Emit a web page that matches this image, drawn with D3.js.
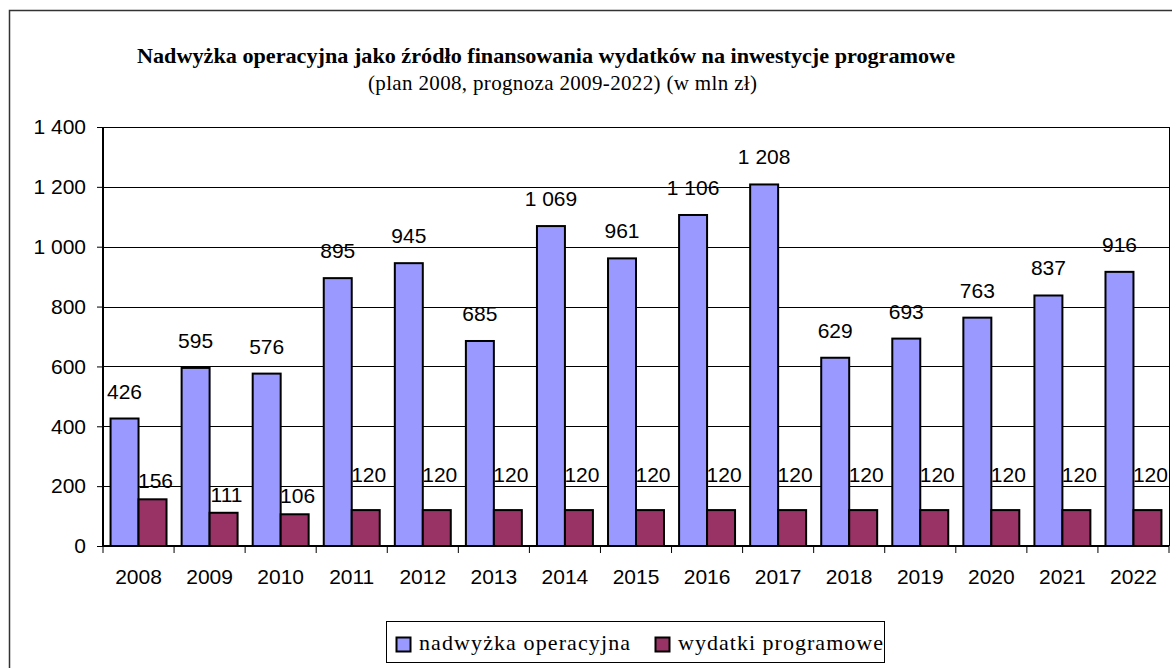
<!DOCTYPE html>
<html>
<head>
<meta charset="utf-8">
<script src="https://cdn.jsdelivr.net/npm/d3@7"></script>
<style>
  body { margin: 0; background: #fff; }
  svg { display: block; }
</style>
</head>
<body>
<svg width="1172" height="668"></svg>
<script>
const years = ["2008", "2009", "2010", "2011", "2012", "2013", "2014", "2015",
               "2016", "2017", "2018", "2019", "2020", "2021", "2022"];
const nadwyzka = [426, 595, 576, 895, 945, 685, 1069, 961, 1106, 1208, 629, 693, 763, 837, 916];
const wydatki = [156, 111, 106, 120, 120, 120, 120, 120, 120, 120, 120, 120, 120, 120, 120];
const series_names = ["nadwyżka operacyjna", "wydatki programowe"];
const series_colors = ["#9999FF", "#993366"];
const y_ticks = [0, 200, 400, 600, 800, 1000, 1200, 1400];

const svg = d3.select("svg");
const sans = "'Liberation Sans', Arial, sans-serif";
const serif = "'Liberation Serif', 'Times New Roman', serif";

const plot = { left: 103, right: 1169, top: 127, bottom: 546 };

// outer chart frame (runs past the picture on the right and bottom)
svg.append("rect")
    .attr("x", 9.5).attr("y", 10.5)
    .attr("width", 1300).attr("height", 800)
    .attr("fill", "none")
    .attr("stroke", "#333")
    .attr("stroke-width", 1.5);

const fmt = (v) => d3.format(",")(v).replace(/,/g, " ");

const x0 = d3.scaleBand().domain(years).range([plot.left, plot.right]).padding(0);
const x1 = d3.scaleBand().domain([0, 1]).range([0, x0.bandwidth()])
    .paddingInner(0).paddingOuter(0.27);
const y = d3.scaleLinear().domain([0, 1400]).range([plot.bottom, plot.top]);

// gridlines
svg.append("g")
    .selectAll("line")
    .data(y_ticks.filter((d) => d > 0))
    .join("line")
    .attr("x1", plot.left).attr("x2", plot.right)
    .attr("y1", (d) => Math.round(y(d)) + 0.5)
    .attr("y2", (d) => Math.round(y(d)) + 0.5)
    .attr("stroke", "#000")
    .attr("stroke-width", 1);

// right border of plot area
svg.append("line")
    .attr("x1", plot.right + 0.5).attr("x2", plot.right + 0.5)
    .attr("y1", plot.top).attr("y2", plot.bottom)
    .attr("stroke", "#000");

// y axis
const y_axis = svg.append("g")
    .attr("transform", `translate(${plot.left},0)`)
    .call(d3.axisLeft(y).tickValues(y_ticks).tickFormat(fmt).tickSize(6).tickPadding(11));
y_axis.select(".domain").attr("stroke-width", 2).attr("d", `M0,${plot.top}V${plot.bottom}`);
y_axis.selectAll("text").attr("font-family", sans).attr("font-size", 21).attr("fill", "#000");

// x axis: ticks at band boundaries
const x_axis = svg.append("g").attr("transform", `translate(0,${plot.bottom})`);
x_axis.append("line")
    .attr("x1", plot.left).attr("x2", plot.right)
    .attr("stroke", "#000").attr("stroke-width", 2);
x_axis.selectAll("line.tick")
    .data(years.concat(["end"]))
    .join("line")
    .attr("class", "tick")
    .attr("x1", (d, i) => plot.left + i * x0.step())
    .attr("x2", (d, i) => plot.left + i * x0.step())
    .attr("y1", 0).attr("y2", 7)
    .attr("stroke", "#000");
x_axis.selectAll("text")
    .data(years)
    .join("text")
    .attr("x", (d) => x0(d) + x0.bandwidth() / 2)
    .attr("y", 38)
    .attr("text-anchor", "middle")
    .attr("font-family", sans)
    .attr("font-size", 21)
    .text((d) => d);

// bars
const rows = years.map((yr, i) => ({ year: yr, vals: [nadwyzka[i], wydatki[i]] }));
const groups = svg.append("g")
    .selectAll("g")
    .data(rows)
    .join("g")
    .attr("transform", (d) => `translate(${x0(d.year)},0)`);

groups.selectAll("rect")
    .data((d) => d.vals.map((v, k) => ({ v, k })))
    .join("rect")
    .attr("x", (d) => x1(d.k))
    .attr("y", (d) => y(d.v))
    .attr("width", x1.bandwidth())
    .attr("height", (d) => y(0) - y(d.v))
    .attr("fill", (d) => series_colors[d.k])
    .attr("stroke", "#000")
    .attr("stroke-width", 2);

groups.selectAll("text")
    .data((d) => d.vals.map((v, k) => ({ v, k })))
    .join("text")
    .attr("x", (d) => x1(d.k) + x1.bandwidth() / 2 + (d.k === 1 ? 3 : 0))
    .attr("y", (d) => y(d.v) - (d.k === 0 ? 20 : d.v === 120 ? 28 : 11))
    .attr("text-anchor", "middle")
    .attr("font-family", sans)
    .attr("font-size", 21)
    .text((d) => fmt(d.v));

// title
svg.append("text")
    .attr("x", 137).attr("y", 63)
    .attr("font-family", serif)
    .attr("font-weight", "bold")
    .attr("font-size", 22)
    .attr("textLength", 818)
    .attr("lengthAdjust", "spacingAndGlyphs")
    .text("Nadwyżka operacyjna jako źródło finansowania wydatków na inwestycje programowe");
svg.append("text")
    .attr("x", 368).attr("y", 90)
    .attr("font-family", serif)
    .attr("font-size", 21)
    .attr("textLength", 389)
    .attr("lengthAdjust", "spacing")
    .text("(plan 2008, prognoza 2009-2022) (w mln zł)");

// legend
const legend = svg.append("g");
legend.append("rect")
    .attr("x", 386.5).attr("y", 621.5)
    .attr("width", 498).attr("height", 41)
    .attr("fill", "#fff")
    .attr("stroke", "#000");
const legend_x = [396, 655];
const legend_w = [211, 205];
series_names.forEach((name, i) => {
    legend.append("rect")
        .attr("x", legend_x[i] + 0.5).attr("y", 637.5)
        .attr("width", 14).attr("height", 14)
        .attr("fill", series_colors[i])
        .attr("stroke", "#000")
        .attr("stroke-width", 2);
    legend.append("text")
        .attr("x", legend_x[i] + 23).attr("y", 650)
        .attr("font-family", serif)
        .attr("font-size", 22)
        .attr("textLength", legend_w[i])
        .attr("lengthAdjust", "spacing")
        .text(name);
});
</script>
</body>
</html>
